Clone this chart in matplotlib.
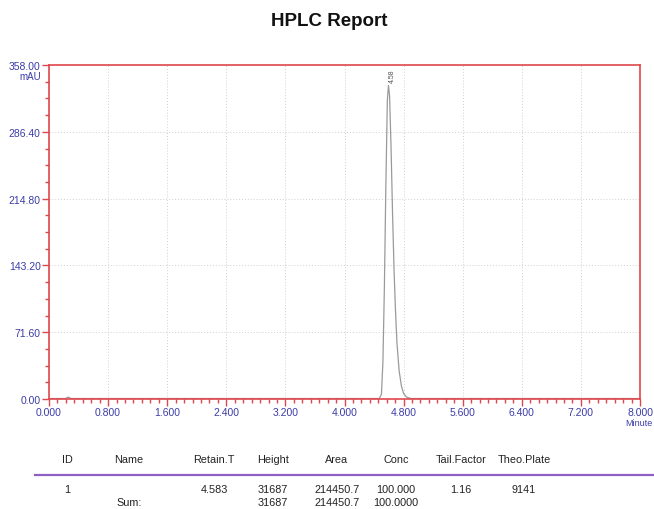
import matplotlib
matplotlib.use("Agg")
import matplotlib.pyplot as plt
from matplotlib.ticker import AutoMinorLocator, FixedLocator

plt.rcParams['font.family'] = ['Liberation Sans', 'DejaVu Sans']

# chromatogram trace (minutes, mAU)
time_min = [0.0, 0.22, 0.26, 0.30, 4.47, 4.50, 4.52, 4.54, 4.56, 4.58, 4.595, 4.61,
            4.63, 4.65, 4.67, 4.69, 4.71, 4.74, 4.77, 4.80, 4.84, 4.90, 8.0]
signal_mau = [0.5, 0.5, 2.0, 0.5, 0.5, 5, 40, 120, 230, 320, 336, 325,
              270, 200, 140, 95, 60, 30, 14, 6, 2, 0.5, 0.5]
peak_label = "4.58"
peak_time = 4.595
peak_height = 336

x_ticks = [0.0, 0.8, 1.6, 2.4, 3.2, 4.0, 4.8, 5.6, 6.4, 7.2, 8.0]
y_ticks = [0.0, 71.6, 143.2, 214.8, 286.4, 358.0]

# results table
headers = ["ID", "Name", "Retain.T", "Height", "Area", "Conc", "Tail.Factor", "Theo.Plate"]
row1 = ["1", "", "4.583", "31687", "214450.7", "100.000", "1.16", "9141"]
sum_row = ["", "Sum:", "", "31687", "214450.7", "100.0000", "", ""]

W, H = 654, 510
fig = plt.figure(figsize=(W / 100, H / 100), dpi=100)
ax = fig.add_axes([49 / W, 1 - 400 / H, (640 - 49) / W, (400 - 66) / H])

ax.plot(time_min, signal_mau, color="#9a9a9a", lw=0.9)
ax.set_xlim(0, 8)
ax.set_ylim(0, 358)

red = "#e0474c"
for s in ax.spines.values():
    s.set_color(red)
    s.set_linewidth(1.2)

tick_blue = "#3c3ca8"
ax.xaxis.set_major_locator(FixedLocator(x_ticks))
ax.yaxis.set_major_locator(FixedLocator(y_ticks))
ax.xaxis.set_minor_locator(AutoMinorLocator(7))
ax.yaxis.set_minor_locator(AutoMinorLocator(4))
ax.set_xticklabels([f"{v:.3f}" for v in x_ticks])
ax.set_yticklabels([f"{v:.2f}" for v in y_ticks])
ax.tick_params(which="both", direction="out", color=red, labelcolor=tick_blue,
               labelsize=7.5)
ax.tick_params(which="major", length=5, width=1)
ax.tick_params(which="minor", length=3, width=1)
ax.tick_params(axis="x", pad=1)
ax.tick_params(axis="y", pad=1)

ax.grid(True, which="major", color="#cfcfcf", linestyle=(0, (1, 2)), lw=0.7)

ax.text(peak_time + 0.05, peak_height + 4, peak_label, rotation=90, fontsize=5,
        color="#555555", ha="center", va="bottom")

fig.text(41 / W, 1 - 77 / H, "mAU", fontsize=7, color=tick_blue, ha="right", va="center")
fig.text(652 / W, 1 - 424 / H, "Minute", fontsize=6.5, color=tick_blue, ha="right", va="center")

fig.text(329 / W, 1 - 22 / H, "HPLC Report", fontsize=13.5, fontweight="bold",
         ha="center", va="center", color="#111111")

col_x = [67, 129, 214, 273, 337, 396, 461, 524]
for cx, h in zip(col_x, headers):
    fig.text(cx / W, 1 - 460 / H, h, fontsize=7.8, ha="center", va="center", color="#222222")
for cx, v in zip(col_x, row1):
    if v:
        fig.text(cx / W, 1 - 490 / H, v, fontsize=7.8, ha="center", va="center", color="#222222")
for cx, v in zip(col_x, sum_row):
    if v:
        fig.text(cx / W, 1 - 503 / H, v, fontsize=7.8, ha="center", va="center", color="#222222")

fig.add_artist(plt.Line2D([35 / W, 1.0], [1 - 476 / H, 1 - 476 / H],
                          transform=fig.transFigure, color="#8e5fc4", lw=1.6))

fig.savefig("out.png", dpi=100)
